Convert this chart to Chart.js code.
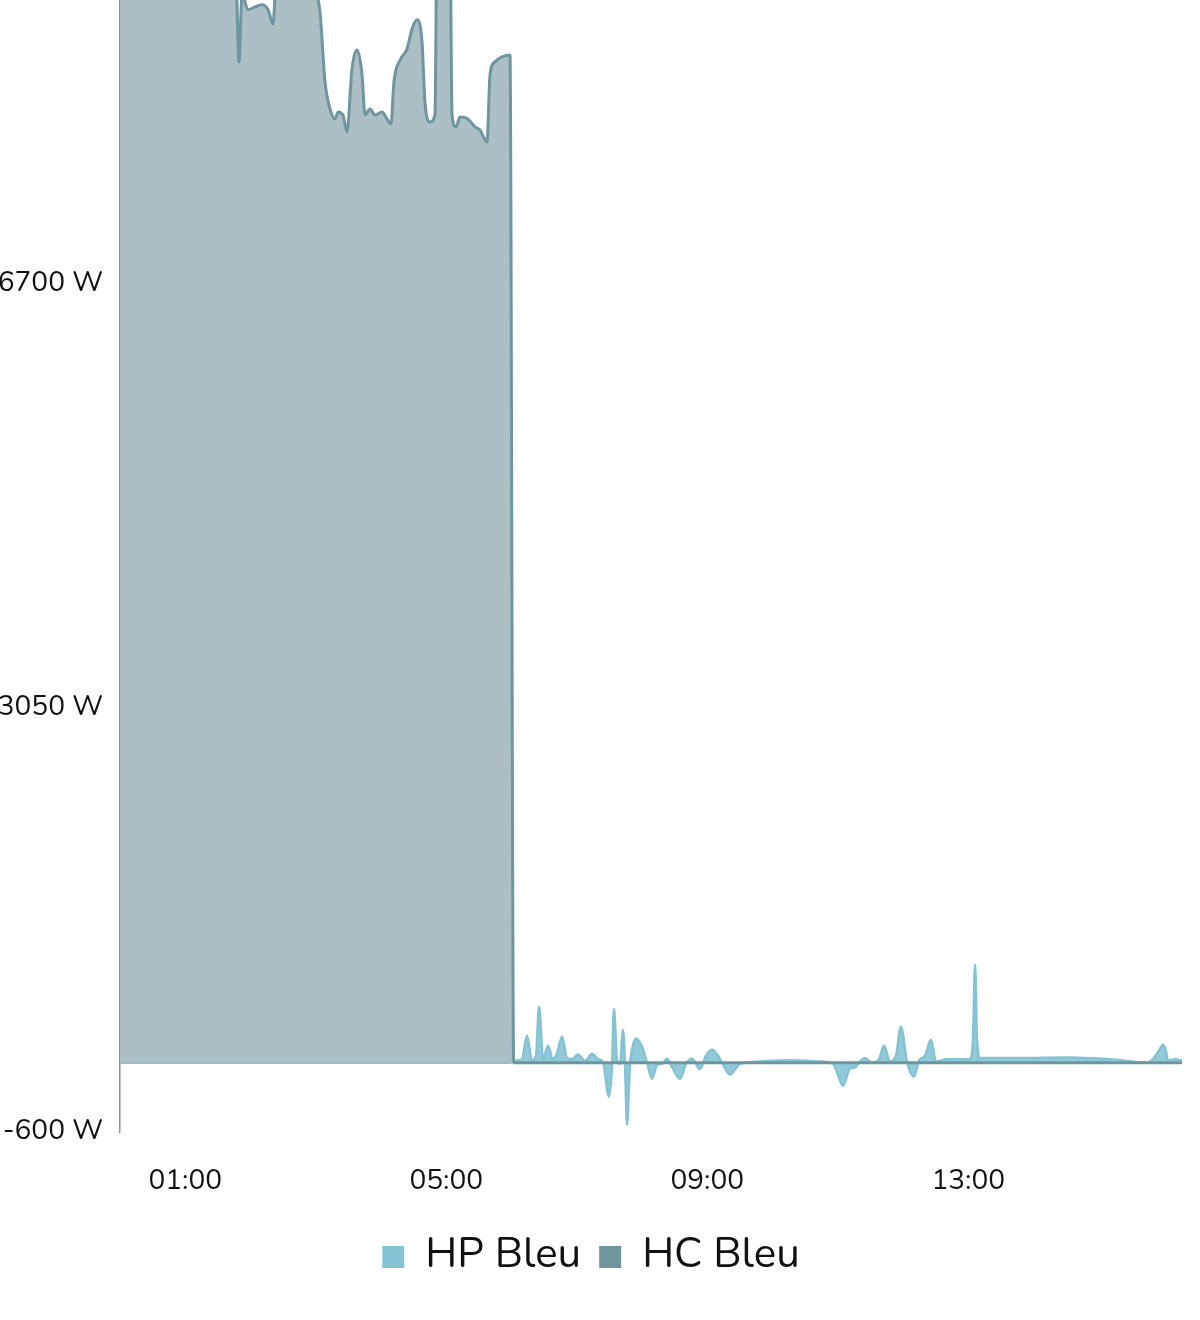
<!DOCTYPE html>
<html><head><meta charset="utf-8">
<script src="https://cdn.jsdelivr.net/npm/chart.js@4/dist/chart.umd.min.js"></script>
<style>
html,body{margin:0;padding:0;background:#fff;overflow:hidden;width:1200px;height:1320px;}
#wrap{position:absolute;left:0;top:-174px;width:1200px;height:1462px;}
</style></head><body>
<div id="wrap"><canvas id="c"></canvas></div>
<script>
// Time in minutes since 00:00, power in W
const hcMinutes = [0, 27.6, 73.6, 106.7, 109.4, 112.2, 117.7, 124.1, 130.6, 136.1, 140.7, 143.4, 156.3, 174.7, 182.1, 183.9, 188.5, 193.1, 197.7, 200.5, 205.0, 208.7, 213.3, 217.9, 222.5, 225.3, 229.9, 234.5, 240.9, 245.5, 249.2, 251.9, 257.5, 263.9, 268.5, 273.1, 277.7, 280.4, 285.0, 289.6, 291.5, 297.9, 303.4, 305.3, 309.0, 312.6, 320.0, 326.4, 331.0, 337.5, 340.2, 344.8, 351.3, 358.6, 362.0, 976.5];
const hcValues  = [9800, 9700, 9750, 9300, 8611, 9200, 9059, 9084, 9102, 9059, 8938, 9300, 9600, 9500, 9150, 9041, 8439, 8206, 8120, 8181, 8155, 8008, 8551, 8714, 8508, 8155, 8206, 8155, 8181, 8120, 8077, 8439, 8628, 8723, 8895, 8973, 8783, 8267, 8094, 8155, 9700, 9800, 9700, 8155, 8051, 8138, 8120, 8051, 8026, 7922, 8499, 8611, 8654, 8671, 0, 0];

const hpMinutes = [0, 358.6, 362.3, 366.0, 369.6, 374.2, 378.8, 382.5, 385.3, 389.0, 393.5, 398.1, 401.8, 406.4, 411.0, 415.6, 421.1, 427.6, 434.0, 439.5, 444.1, 449.6, 452.4, 454.2, 457.0, 459.8, 462.5, 464.3, 466.2, 468.9, 471.7, 474.5, 480.0, 484.6, 489.2, 493.8, 498.4, 503.0, 506.6, 514.9, 520.4, 526.0, 533.3, 538.8, 544.3, 549.8, 553.5, 560.9, 570.1, 588.5, 616.1, 643.7, 655.6, 664.8, 671.2, 675.8, 680.4, 685.0, 691.5, 697.9, 702.5, 708.0, 713.5, 718.1, 723.6, 730.0, 734.7, 740.2, 745.7, 750.3, 760.4, 772.4, 781.6, 784.3, 786.2, 788.0, 790.8, 827.6, 870.8, 910.3, 944.3, 949.8, 956.3, 959.0, 961.8, 963.5, 970.1, 976.5];
const hpValues  = [0, 0, 10, 20, 30, 232, 20, 60, 482, 30, 146, 30, 80, 224, 40, 30, 70, 15, 77, 30, 5, -293, -20, 465, 20, -10, 284, 0, -534, -20, 150, 207, 138, 0, -138, -20, -10, 34, -20, -138, -10, 34, -55, 60, 112, 60, 0, -103, -10, 10, 20, 10, -10, -198, -50, -40, 10, 40, 0, 30, 146, 10, 60, 310, 10, -120, 20, 60, 198, 10, 30, 30, 30, 200, 844, 200, 40, 40, 45, 30, 0, 30, 120, 155, 100, 20, 30, 20];

const seriesNames = ['HP Bleu', 'HC Bleu'];
const xTickMinutes = [60, 300, 540, 780];
const xTickLabels = ['01:00', '05:00', '09:00', '13:00'];
const yTickValues = [-600, 3050, 6700, 10350];

const FONT = 'Nunito, Lato, "Open Sans", sans-serif';
const hpData = hpMinutes.map((m, i) => ({x: m, y: hpValues[i]}));
const hcData = hcMinutes.map((m, i) => ({x: m, y: hcValues[i]}));

new Chart(document.getElementById('c'), {
  type: 'line',
  data: {
    datasets: [
      {label: seriesNames[0], data: hpData, borderColor: '#84c3d3', backgroundColor: 'rgba(138,198,214,0.92)',
       fill: 'origin', borderWidth: 2.5, pointRadius: 0, cubicInterpolationMode: 'monotone', order: 2},
      {label: seriesNames[1], data: hcData, borderColor: '#6f969f', backgroundColor: '#abbfc5',
       fill: 'origin', borderWidth: 3, pointRadius: 0, cubicInterpolationMode: 'monotone', order: 1}
    ]
  },
  options: {
    responsive: true, maintainAspectRatio: false, animation: false,
    layout: {padding: {top: 0, right: 18, left: 0, bottom: 0}},
    plugins: {
      tooltip: {enabled: false},
      legend: {
        position: 'bottom',
        labels: {
          font: {family: FONT, size: 42}, color: '#111',
          boxWidth: 22, boxHeight: 22, padding: 18,
          sort: (a, b) => a.datasetIndex - b.datasetIndex,
          generateLabels: (chart) => {
            const items = Chart.defaults.plugins.legend.labels.generateLabels(chart);
            items.forEach(it => {
              const ds = chart.data.datasets[it.datasetIndex];
              it.fillStyle = ds.borderColor; it.strokeStyle = ds.borderColor; it.lineWidth = 0;
            });
            return items;
          }
        }
      }
    },
    scales: {
      x: {
        type: 'linear', min: 0, max: 976.5,
        grid: {display: false, drawTicks: false},
        border: {display: false},
        afterBuildTicks: (s) => { s.ticks = xTickMinutes.map(v => ({value: v})); },
        afterFit: (s) => { s.height -= 14; },
        ticks: {
          font: {family: FONT, size: 28}, color: '#111', padding: 33, maxRotation: 0, autoSkip: false,
          callback: (v) => { const i = xTickMinutes.indexOf(v); return i >= 0 ? xTickLabels[i] : ''; }
        }
      },
      y: {
        min: -600, max: 10350,
        grid: {display: false, drawTicks: false},
        border: {display: true, color: '#8c8c8c', width: 1.5},
        afterBuildTicks: (s) => { s.ticks = yTickValues.map(v => ({value: v})); },
        afterFit: (s) => { s.width = 120; },
        ticks: {
          font: {family: FONT, size: 28}, color: '#111', padding: 17,
          callback: (v) => v + ' W'
        }
      }
    }
  }
});
</script>
</body></html>
